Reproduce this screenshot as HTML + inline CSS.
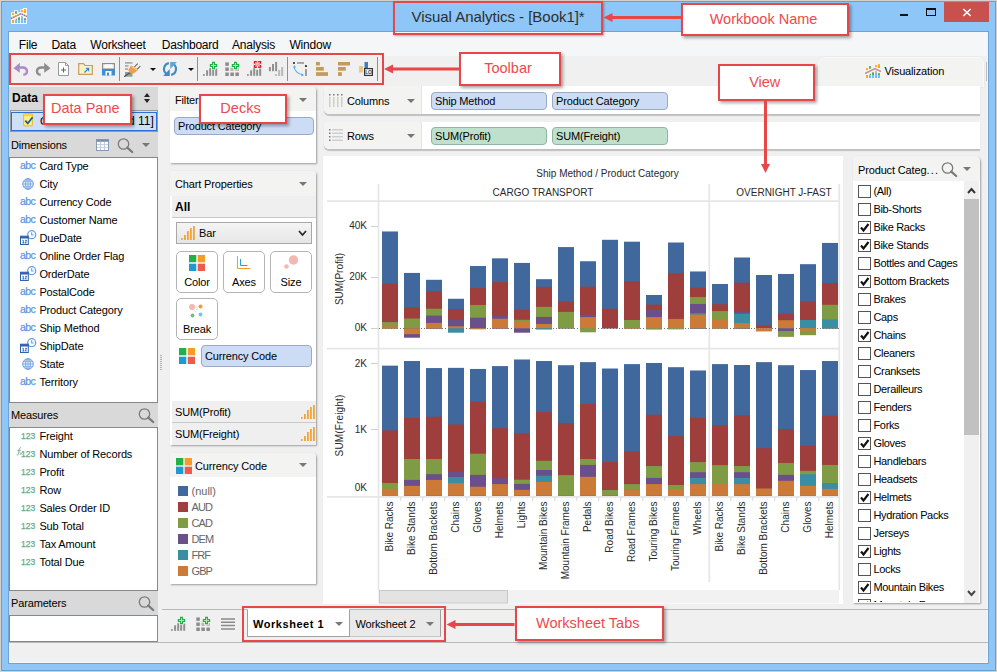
<!DOCTYPE html><html><head><meta charset="utf-8"><title>Visual Analytics</title><style>
*{box-sizing:border-box;margin:0;padding:0}
html,body{width:997px;height:672px;overflow:hidden}
body{position:relative;background:#d5d2cd;font-family:"Liberation Sans",sans-serif;font-size:11px;color:#000;letter-spacing:-0.15px}
.abs{position:absolute}
.t{position:absolute;white-space:nowrap;line-height:14px}
.hdr{position:absolute;background:#d9d9d9}
.wbox{position:absolute;background:#fff;border:1px solid #828790}
.card{position:absolute;background:#fff;box-shadow:1px 1px 2px rgba(0,0,0,.35)}
.chead{position:absolute;left:0;right:0;top:0;background:#f3f3f1;border-radius:4px 4px 0 0}
.pill{position:absolute;border-radius:4px;border:1px solid #9aa9c4;background:#ccdcf5;line-height:15px;padding-left:3px;white-space:nowrap}
.pill.g{background:#bfe0cd;border-color:#92b5a2}
.btn{position:absolute;border:1px solid #b4b4b4;border-radius:5px;background:#fff;text-align:center}
.ann{position:absolute;background:#fff;border:2px solid #e8474a;box-shadow:2px 2px 3px rgba(0,0,0,.35);color:#ee4a4d;font-size:14.5px;letter-spacing:0;text-align:center;white-space:nowrap}
.cb{position:absolute;left:858px;width:13px;height:13px;border:1px solid #555;background:#fff}
.dd{position:absolute;width:0;height:0;border-left:4px solid transparent;border-right:4px solid transparent;border-top:4px solid #777}
.menu{position:absolute;top:38px;font-size:12px;letter-spacing:-0.2px;line-height:14px;white-space:nowrap}
</style></head><body>
<div class="abs" style="left:1px;top:1px;width:995px;height:670px;border:1px solid #6a9ed2;background:#8dc6f7"></div>
<svg class="abs" style="left:11px;top:8px;" width="16" height="16" viewBox="0 0 16 16"><path d="M0 4.300H3V2.200H7V4.300H9.300V1.300H12V0H16V16H0z" fill="#fcf6ee"/><rect x="1" y="5.200" width="2" height="1.900" fill="#ffa814"/><rect x="4" y="3.200" width="2" height="2.500" fill="#5bab5e"/><rect x="10" y="2.200" width="2" height="1.900" fill="#ffa814"/><rect x="13" y="1.200" width="2" height="3.800" fill="#ffa814"/><rect x="1" y="12" width="2" height="3" fill="#ffa814"/><rect x="4" y="12.200" width="2" height="2.800" fill="#6ec0f8"/><path d="M4 12.200L6 10.200V12.200z" fill="#5bab5e"/><rect x="7" y="12.200" width="2" height="2.800" fill="#6ec0f8"/><rect x="7" y="9.300" width="2" height="2.900" fill="#5bab5e"/><rect x="10" y="9.300" width="2" height="5.700" fill="#6ec0f8"/><rect x="10.300" y="8.200" width="1.200" height="1.100" fill="#5bab5e"/><rect x="13" y="12.200" width="2" height="2.800" fill="#6ec0f8"/><rect x="13" y="10.200" width="2" height="2" fill="#5bab5e"/><path d="M0 10.500L9.800 5.700L16 8.500" stroke="#f5a78d" stroke-width="1.400" fill="none"/><path d="M0 10.500L9.800 5.700L16 8.500" stroke="#8a6fc0" stroke-width="1.400" fill="none" stroke-dasharray="1.200 1.200"/></svg>
<div class="t" style="left:411.5px;top:8px;font-size:15px;line-height:18px;letter-spacing:-0.03px;color:#2e2e2e">Visual Analytics - [Book1]*</div>
<div class="abs" style="left:900px;top:14px;width:8px;height:2px;background:#111"></div>
<div class="abs" style="left:926px;top:8px;width:10px;height:8px;border:1px solid #111;border-top-width:2px"></div>
<div class="abs" style="left:944px;top:2px;width:45px;height:20px;background:#c8504f"></div>
<svg class="abs" style="left:962px;top:8px" width="10" height="9"><path d="M1.300 1L8.700 8M8.700 1L1.300 8" stroke="#fff" stroke-width="1.600"/></svg>
<div class="abs" style="left:9px;top:32px;width:979px;height:631px;background:#f0f0f0;box-shadow:0 0 0 1px #6fa3d6;border-right:1px solid #f8f5f2;border-bottom:1px solid #f8f5f2"></div>
<div class="abs" style="left:9px;top:32px;width:979px;height:24px;background:#f5f6f7"></div>
<div class="menu" style="left:18.8px">File</div>
<div class="menu" style="left:51.4px">Data</div>
<div class="menu" style="left:90.3px">Worksheet</div>
<div class="menu" style="left:161.7px">Dashboard</div>
<div class="menu" style="left:232px">Analysis</div>
<div class="menu" style="left:289.4px">Window</div>
<svg class="abs" style="left:13px;top:61px;" width="16" height="16" viewBox="0 0 16 16"><path d="M0.500 7.200L6.800 1.800V5.200H9.500C13 5.200 15.200 7.300 15.200 10.200C15.200 13 13 14.800 10.300 14.800V12.600C11.800 12.600 12.800 11.700 12.800 10.200C12.800 8.700 11.700 7.700 9.500 7.700H6.800V11.800z" fill="#a98bc6"/></svg><svg class="abs" style="left:35px;top:61px;" width="16" height="16" viewBox="0 0 16 16"><path d="M15.500 7.200L9.200 1.800V5.200H6.500C3 5.200 0.800 7.300 0.800 10.200C0.800 13 3 14.800 5.700 14.800V12.600C4.200 12.600 3.200 11.700 3.200 10.200C3.200 8.700 4.300 7.700 6.500 7.700H9.200V11.800z" fill="#8c8c8c"/></svg><svg class="abs" style="left:58px;top:62px;" width="12" height="15" viewBox="0 0 12 15"><path d="M0.500 0.500H7.500L10.500 3.500V13.500H0.500z" fill="#fff" stroke="#9a9a9a"/><path d="M7.500 0.500V3.500H10.500" fill="none" stroke="#9a9a9a"/><path d="M3 8H8M5.500 5.500V10.500" stroke="#258a30" stroke-width="1"/></svg><svg class="abs" style="left:78px;top:62px;" width="16" height="14" viewBox="0 0 16 14"><path d="M0.700 1.700H5.500L7 3.500H14.300V12.300H0.700z" fill="#fbf2c8" stroke="#c99c5c" stroke-width="1.200"/><path d="M6.500 10.500L10.500 6.500M7.800 6.300H10.700V9.200" stroke="#2f86c8" stroke-width="1.100" fill="none"/></svg><svg class="abs" style="left:102px;top:63px;" width="13" height="13" viewBox="0 0 13 13"><path d="M0.600 0.600H12.400V6H0.600z" fill="#f4f4f4" stroke="#8e8e8e" stroke-width="1.200"/><rect x="3" y="1.500" width="7" height="3" fill="#fff"/><path d="M0 6H13V12.500H0z" fill="#3f8fd0"/><rect x="3.500" y="8" width="6" height="4.500" fill="#fff"/><rect x="5" y="9.500" width="2" height="3" fill="#3f8fd0"/></svg><div class="abs" style="left:119px;top:57px;width:1px;height:24px;background:#8f8f8f"></div><div class="abs" style="left:197px;top:57px;width:1px;height:24px;background:#8f8f8f"></div><div class="abs" style="left:287px;top:57px;width:1px;height:24px;background:#8f8f8f"></div><div class="abs" style="left:377px;top:57px;width:1px;height:24px;background:#8f8f8f"></div><svg class="abs" style="left:124px;top:61px;" width="17" height="16" viewBox="0 0 17 16"><rect x="1" y="1.300" width="7.500" height="1.200" fill="#8a8a8a"/><rect x="1" y="4.300" width="3.500" height="1.200" fill="#8a8a8a"/><rect x="1" y="7.400" width="3" height="1.200" fill="#8a8a8a"/><path d="M1 11H8.500V15.700H1z" fill="#9a9a9a"/><path d="M0 15.800L6.500 11.200" stroke="#555" stroke-width="1.200"/><path d="M10.500 5.800L13.800 2.600M13 8.300L16.300 5.100" stroke="#666" stroke-width="1.100"/><path d="M7 4.300L14.500 8.600L13 10L9.500 12.500L5.700 12L4.300 9z" fill="#eaa24f"/><path d="M7.400 5.600L13.300 9.200" stroke="#f7d9a8" stroke-width="0.800"/><rect x="6" y="12" width="1.200" height="1.200" fill="#19c030"/></svg><div class="dd" style="left:149.500px;top:68px;border-left-width:3px;border-right-width:3px;border-top-width:3.500px;border-top-color:#111"></div><svg class="abs" style="left:162px;top:61px;" width="17" height="16" viewBox="0 0 17 16"><g fill="none" stroke="#3d8cc6" stroke-width="2.100"><path d="M6.900 2.100A6 6 0 0 0 4.560 12.900"/><path d="M9.100 13.900A6 6 0 0 0 11.440 3.100"/></g><path d="M7.800 8.100V14.900H1.100z" fill="#3f8dc6"/><path d="M8.200 7.900V1.100H14.900z" fill="#5fa6d6"/></svg><div class="dd" style="left:187.500px;top:68px;border-left-width:3px;border-right-width:3px;border-top-width:3.500px;border-top-color:#111"></div><svg class="abs" style="left:203px;top:61px;" width="15" height="16" viewBox="0 0 15 16"><g fill="#8f8f8f"><rect x="0" y="13.100" width="1.800" height="1.700"/><rect x="3.100" y="9.300" width="2" height="5.500"/><rect x="6.200" y="7.200" width="2" height="7.600"/><rect x="9.200" y="8.900" width="1.900" height="5.900"/><rect x="12.200" y="7.600" width="2" height="7.200"/></g><path d="M10.5 0.2999999999999998V8.7M6.3 4.5H14.7" stroke="#f0f0f0" stroke-width="4.400"/><path d="M10.5 0.7999999999999998V8.2M6.8 4.5H14.2" stroke="#18b640" stroke-width="3"/><path d="M10.5 1.9999999999999998V6.999999999999999M8.0 4.5H13.0" stroke="#a8ecb4" stroke-width="1"/></svg><svg class="abs" style="left:225px;top:61px;" width="15" height="16" viewBox="0 0 15 16"><g fill="#8c8c8c"><rect x="0.30" y="1.40" width="3.500" height="3.500"/><rect x="0.30" y="6.45" width="3.500" height="3.500"/><rect x="5.35" y="6.45" width="3.500" height="3.500" opacity="0.550"/><rect x="10.40" y="6.45" width="3.500" height="3.500" opacity="0.550"/><rect x="0.30" y="11.50" width="3.500" height="3.500"/><rect x="5.35" y="11.50" width="3.500" height="3.500"/><rect x="10.40" y="11.50" width="3.500" height="3.500"/></g><path d="M10.5 0.2999999999999998V8.7M6.3 4.5H14.7" stroke="#f0f0f0" stroke-width="4.400"/><path d="M10.5 0.7999999999999998V8.2M6.8 4.5H14.2" stroke="#18b640" stroke-width="3"/><path d="M10.5 1.9999999999999998V6.999999999999999M8.0 4.5H13.0" stroke="#a8ecb4" stroke-width="1"/></svg><svg class="abs" style="left:247px;top:61px;" width="15" height="16" viewBox="0 0 15 16"><g fill="#8f8f8f"><rect x="0" y="13.100" width="1.800" height="1.700"/><rect x="3.100" y="9.300" width="2" height="5.500"/><rect x="6.200" y="7.200" width="2" height="7.600"/><rect x="9.200" y="8.900" width="1.900" height="5.900"/><rect x="12.200" y="7.600" width="2" height="7.200"/></g><rect x="6.800" y="0" width="7.400" height="6.900" fill="#e0101c"/><path d="M8.300 1.400L12.700 5.500M12.700 1.400L8.300 5.500" stroke="#ffb0b0" stroke-width="1.700"/><path d="M10.500 0V1.800M10.500 5.100V6.900M6.800 3.450H8.600M12.400 3.450H14.200" stroke="#f0f0f0" stroke-width="1.300"/></svg><svg class="abs" style="left:268px;top:61px;" width="16" height="16" viewBox="0 0 16 16"><g fill="#909090"><rect x="0.900" y="6" width="2" height="4.200"/><rect x="4" y="3" width="2" height="7.200"/><rect x="7.100" y="0.900" width="2" height="9.300"/></g><g fill="#b8b8b8"><rect x="7.100" y="13.100" width="2" height="1.900"/><rect x="10.200" y="8.900" width="2" height="6.100"/><rect x="13.200" y="6" width="2" height="9"/></g></svg><svg class="abs" style="left:292px;top:61px;" width="16" height="16" viewBox="0 0 16 16"><rect x="1" y="1.100" width="1.900" height="1.800" fill="#333"/><rect x="5" y="1.100" width="7" height="1.700" fill="#9a9a9a"/><rect x="13" y="4.100" width="1.900" height="1.900" fill="#333"/><rect x="13" y="8.100" width="1.900" height="6.900" fill="#9a9a9a"/><path d="M2.200 4.800C1.800 9.500 6 13.500 11.300 14" stroke="#5ab0e8" stroke-width="1.100" fill="none"/><path d="M1 6.800L2.200 4.200L4.200 6.300zM9.300 12.200L12 14.200L9.200 15.200z" fill="#5ab0e8"/></svg><svg class="abs" style="left:316px;top:62px;" width="12" height="14" viewBox="0 0 12 14"><g fill="#c49a5a"><rect x="0" y="0" width="3.900" height="3.500"/><rect x="0" y="5" width="7.800" height="3.700"/><rect x="0" y="10.200" width="12" height="3.700"/></g></svg><svg class="abs" style="left:338px;top:62px;" width="12" height="14" viewBox="0 0 12 14"><g fill="#c49a5a"><rect x="0" y="0" width="12" height="3.500"/><rect x="0" y="5" width="7.800" height="3.700"/><rect x="0" y="10.200" width="3.900" height="3.700"/></g></svg><svg class="abs" style="left:359px;top:62px;" width="14" height="14" viewBox="0 0 14 14"><rect x="0" y="4" width="4" height="6.500" fill="#ecc685"/><rect x="5.500" y="0" width="3.500" height="7" fill="#3f7dc0"/><rect x="5.600" y="6.600" width="7.800" height="6.800" fill="#fff" stroke="#333" stroke-width="1.200"/><text x="9.500" y="12" font-size="5" font-weight="bold" text-anchor="middle" font-family="Liberation Sans" fill="#223a66">LO</text></svg>
<div class="abs" style="left:818px;top:57px;width:166px;height:30px;background:#f3f3f1;border:1px solid #f9f9f8;border-bottom:none;border-radius:6px 6px 0 0;box-shadow:0 0 0 0.5px #e4e4e4"></div>
<div class="abs" style="left:986px;top:62px;width:1px;height:19px;background:#bdbdbd"></div>
<svg class="abs" style="left:865px;top:63px;" width="16" height="16" viewBox="0 0 16 16"><rect x="1" y="5.200" width="2" height="1.900" fill="#ffa814"/><rect x="4" y="3.200" width="2" height="2.500" fill="#5bab5e"/><rect x="10" y="2.200" width="2" height="1.900" fill="#ffa814"/><rect x="13" y="1.200" width="2" height="3.800" fill="#ffa814"/><rect x="1" y="12" width="2" height="3" fill="#ffa814"/><rect x="4" y="12.200" width="2" height="2.800" fill="#6ec0f8"/><path d="M4 12.200L6 10.200V12.200z" fill="#5bab5e"/><rect x="7" y="12.200" width="2" height="2.800" fill="#6ec0f8"/><rect x="7" y="9.300" width="2" height="2.900" fill="#5bab5e"/><rect x="10" y="9.300" width="2" height="5.700" fill="#6ec0f8"/><rect x="10.300" y="8.200" width="1.200" height="1.100" fill="#5bab5e"/><rect x="13" y="12.200" width="2" height="2.800" fill="#6ec0f8"/><rect x="13" y="10.200" width="2" height="2" fill="#5bab5e"/><path d="M0 10.500L9.800 5.700L16 8.500" stroke="#f5a78d" stroke-width="1.400" fill="none"/><path d="M0 10.500L9.800 5.700L16 8.500" stroke="#c48ab0" stroke-width="1.300" fill="none"/></svg>
<div class="t" style="left:884.5px;top:64px;">Visualization</div>
<div class="hdr" style="left:9px;top:87px;width:149px;height:555px"></div>
<div class="t" style="left:12px;top:90.5px;font-size:12px;letter-spacing:0"><b>Data</b></div>
<svg class="abs" style="left:143px;top:92px" width="8" height="12"><path d="M1 5L4 1L7 5zM1 7L4 11L7 7z" fill="#222"/></svg>
<div class="abs" style="left:10px;top:110px;width:148px;height:22px;border:1px solid #9a9a9a;background:#cde0f8;padding:1px 0 0 0"><div style="width:100%;height:19px;border:1px solid #2e6fd6"></div></div>
<svg class="abs" style="left:23px;top:113px;" width="12" height="14" viewBox="0 0 12 14"><rect x="0.600" y="0.600" width="8.800" height="12.300" rx="1.500" fill="#fdf08a" stroke="#e8c22e" stroke-width="1.200"/><rect x="1.200" y="1.200" width="7.600" height="2" fill="#f6d536"/><path d="M2.300 7.600L4.800 10.300L9.600 4.300" stroke="#2457a6" stroke-width="1.800" fill="none"/></svg>
<div class="t" style="left:40px;top:113.5px;">Ge</div>
<div class="t" style="left:128px;top:113.5px;font-size:12px;letter-spacing:0">d 11]</div>
<div class="t" style="left:11px;top:138px;">Dimensions</div>
<svg class="abs" style="left:96px;top:139px;" width="13" height="12" viewBox="0 0 13 12"><rect x="0.500" y="0.500" width="12" height="11" fill="#fff" stroke="#8a9bb5"/><rect x="0.500" y="0.500" width="12" height="2.300" fill="#7d8fb0"/><path d="M1 5.600H12M1 8.400H12M4.500 3V11M8.500 3V11" stroke="#c3ccda" stroke-width="1"/></svg>
<svg class="abs" style="left:117px;top:137px;" width="17" height="17" viewBox="0 0 17 17"><circle cx="6.500" cy="7" r="5.200" fill="none" stroke="#7a7a7a" stroke-width="1.300"/><path d="M10.300 10.600L15.200 15" stroke="#7a7a7a" stroke-width="2.300" stroke-linecap="round"/></svg>
<div class="dd" style="left:142px;top:143px"></div>
<div class="wbox" style="left:9px;top:157px;width:149px;height:246px;border-left-color:#828790"></div>
<div class="t" style="left:20px;top:158px;color:#5c97e6;font-size:10.5px;letter-spacing:-0.55px;-webkit-text-stroke:0.25px #5c97e6">abc</div>
<div class="t" style="left:39.4px;top:159px;">Card Type</div>
<svg class="abs" style="left:22px;top:178px;" width="12" height="12" viewBox="0 0 12 12"><circle cx="6" cy="6" r="5.300" fill="#eaf2fd" stroke="#6f9fe0" stroke-width="1"/><ellipse cx="6" cy="6" rx="2.400" ry="5.300" fill="none" stroke="#6f9fe0" stroke-width="0.900"/><path d="M6 0.700V11.300M0.700 6H11.300M1.500 3.300H10.500M1.500 8.700H10.500" stroke="#6f9fe0" stroke-width="0.800"/></svg>
<div class="t" style="left:39.4px;top:177px;">City</div>
<div class="t" style="left:20px;top:194px;color:#5c97e6;font-size:10.5px;letter-spacing:-0.55px;-webkit-text-stroke:0.25px #5c97e6">abc</div>
<div class="t" style="left:39.4px;top:195px;">Currency Code</div>
<div class="t" style="left:20px;top:212px;color:#5c97e6;font-size:10.5px;letter-spacing:-0.55px;-webkit-text-stroke:0.25px #5c97e6">abc</div>
<div class="t" style="left:39.4px;top:213px;">Customer Name</div>
<svg class="abs" style="left:20px;top:230px;" width="17" height="15" viewBox="0 0 17 15"><circle cx="11.700" cy="4.700" r="4" fill="#fff" stroke="#62a0ea" stroke-width="1.300"/><path d="M11.700 2.300V5H13.600" stroke="#62a0ea" stroke-width="1.100" fill="none"/><rect x="0.500" y="6.200" width="7.800" height="8.300" fill="#fff" stroke="#2f62a8"/><rect x="0.500" y="6.200" width="7.800" height="2.300" fill="#2f62a8"/><path d="M2.400 10.200H3.300V13M2.300 13H4.300M5 10.300H6.700L5 12.900H6.800" stroke="#2f62a8" stroke-width="0.900" fill="none"/></svg>
<div class="t" style="left:39.4px;top:231px;">DueDate</div>
<div class="t" style="left:20px;top:248px;color:#5c97e6;font-size:10.5px;letter-spacing:-0.55px;-webkit-text-stroke:0.25px #5c97e6">abc</div>
<div class="t" style="left:39.4px;top:249px;">Online Order Flag</div>
<svg class="abs" style="left:20px;top:266px;" width="17" height="15" viewBox="0 0 17 15"><circle cx="11.700" cy="4.700" r="4" fill="#fff" stroke="#62a0ea" stroke-width="1.300"/><path d="M11.700 2.300V5H13.600" stroke="#62a0ea" stroke-width="1.100" fill="none"/><rect x="0.500" y="6.200" width="7.800" height="8.300" fill="#fff" stroke="#2f62a8"/><rect x="0.500" y="6.200" width="7.800" height="2.300" fill="#2f62a8"/><path d="M2.400 10.200H3.300V13M2.300 13H4.300M5 10.300H6.700L5 12.900H6.800" stroke="#2f62a8" stroke-width="0.900" fill="none"/></svg>
<div class="t" style="left:39.4px;top:267px;">OrderDate</div>
<div class="t" style="left:20px;top:284px;color:#5c97e6;font-size:10.5px;letter-spacing:-0.55px;-webkit-text-stroke:0.25px #5c97e6">abc</div>
<div class="t" style="left:39.4px;top:285px;">PostalCode</div>
<div class="t" style="left:20px;top:302px;color:#5c97e6;font-size:10.5px;letter-spacing:-0.55px;-webkit-text-stroke:0.25px #5c97e6">abc</div>
<div class="t" style="left:39.4px;top:303px;">Product Category</div>
<div class="t" style="left:20px;top:320px;color:#5c97e6;font-size:10.5px;letter-spacing:-0.55px;-webkit-text-stroke:0.25px #5c97e6">abc</div>
<div class="t" style="left:39.4px;top:321px;">Ship Method</div>
<svg class="abs" style="left:20px;top:338px;" width="17" height="15" viewBox="0 0 17 15"><circle cx="11.700" cy="4.700" r="4" fill="#fff" stroke="#62a0ea" stroke-width="1.300"/><path d="M11.700 2.300V5H13.600" stroke="#62a0ea" stroke-width="1.100" fill="none"/><rect x="0.500" y="6.200" width="7.800" height="8.300" fill="#fff" stroke="#2f62a8"/><rect x="0.500" y="6.200" width="7.800" height="2.300" fill="#2f62a8"/><path d="M2.400 10.200H3.300V13M2.300 13H4.300M5 10.300H6.700L5 12.900H6.800" stroke="#2f62a8" stroke-width="0.900" fill="none"/></svg>
<div class="t" style="left:39.4px;top:339px;">ShipDate</div>
<svg class="abs" style="left:22px;top:358px;" width="12" height="12" viewBox="0 0 12 12"><circle cx="6" cy="6" r="5.300" fill="#eaf2fd" stroke="#6f9fe0" stroke-width="1"/><ellipse cx="6" cy="6" rx="2.400" ry="5.300" fill="none" stroke="#6f9fe0" stroke-width="0.900"/><path d="M6 0.700V11.300M0.700 6H11.300M1.500 3.300H10.500M1.500 8.700H10.500" stroke="#6f9fe0" stroke-width="0.800"/></svg>
<div class="t" style="left:39.4px;top:357px;">State</div>
<div class="t" style="left:20px;top:374px;color:#5c97e6;font-size:10.5px;letter-spacing:-0.55px;-webkit-text-stroke:0.25px #5c97e6">abc</div>
<div class="t" style="left:39.4px;top:375px;">Territory</div>
<div class="t" style="left:11px;top:408px;">Measures</div>
<svg class="abs" style="left:138px;top:407px;" width="17" height="17" viewBox="0 0 17 17"><circle cx="6.500" cy="7" r="5.200" fill="none" stroke="#7a7a7a" stroke-width="1.300"/><path d="M10.300 10.600L15.200 15" stroke="#7a7a7a" stroke-width="2.300" stroke-linecap="round"/></svg>
<div class="wbox" style="left:9px;top:427px;width:149px;height:164px"></div>
<div class="t" style="left:21px;top:428.7px;color:#6aa88a;font-size:8.500px;letter-spacing:0;-webkit-text-stroke:0.250px #6aa88a">123</div>
<div class="t" style="left:39.4px;top:429px;">Freight</div>
<svg class="abs" style="left:15.5px;top:447px;" width="7" height="9" viewBox="0 0 7 9"><path d="M5.300 1C4.200 0.400 3.400 1 3.200 2.300L2.500 6.600C2.300 7.800 1.600 8.300 0.600 7.800M1.500 3.600H4.800" stroke="#6aa88a" stroke-width="0.900" fill="none"/><path d="M3.800 5.200L6.500 8M6.500 5.200L3.800 8" stroke="#6aa88a" stroke-width="0.700"/></svg><div class="t" style="left:21px;top:446.7px;color:#6aa88a;font-size:8.500px;letter-spacing:0;-webkit-text-stroke:0.250px #6aa88a">123</div>
<div class="t" style="left:39.4px;top:447px;">Number of Records</div>
<div class="t" style="left:21px;top:464.7px;color:#6aa88a;font-size:8.500px;letter-spacing:0;-webkit-text-stroke:0.250px #6aa88a">123</div>
<div class="t" style="left:39.4px;top:465px;">Profit</div>
<div class="t" style="left:21px;top:482.7px;color:#6aa88a;font-size:8.500px;letter-spacing:0;-webkit-text-stroke:0.250px #6aa88a">123</div>
<div class="t" style="left:39.4px;top:483px;">Row</div>
<div class="t" style="left:21px;top:500.7px;color:#6aa88a;font-size:8.500px;letter-spacing:0;-webkit-text-stroke:0.250px #6aa88a">123</div>
<div class="t" style="left:39.4px;top:501px;">Sales Order ID</div>
<div class="t" style="left:21px;top:518.7px;color:#6aa88a;font-size:8.500px;letter-spacing:0;-webkit-text-stroke:0.250px #6aa88a">123</div>
<div class="t" style="left:39.4px;top:519px;">Sub Total</div>
<div class="t" style="left:21px;top:536.7px;color:#6aa88a;font-size:8.500px;letter-spacing:0;-webkit-text-stroke:0.250px #6aa88a">123</div>
<div class="t" style="left:39.4px;top:537px;">Tax Amount</div>
<div class="t" style="left:21px;top:554.7px;color:#6aa88a;font-size:8.500px;letter-spacing:0;-webkit-text-stroke:0.250px #6aa88a">123</div>
<div class="t" style="left:39.4px;top:555px;">Total Due</div>
<div class="t" style="left:11px;top:596px;">Parameters</div>
<svg class="abs" style="left:138px;top:595px;" width="17" height="17" viewBox="0 0 17 17"><circle cx="6.500" cy="7" r="5.200" fill="none" stroke="#7a7a7a" stroke-width="1.300"/><path d="M10.300 10.600L15.200 15" stroke="#7a7a7a" stroke-width="2.300" stroke-linecap="round"/></svg>
<div class="wbox" style="left:9px;top:615px;width:149px;height:27px"></div>
<div class="abs" style="left:160px;top:355px;width:2px;height:15px;background:repeating-linear-gradient(#b0b0b0 0 1px,transparent 1px 2px)"></div>
<div class="card" style="left:170px;top:87px;width:146px;height:76px;border-radius:4px 4px 0 0"><div class="chead" style="height:24px"></div></div>
<div class="t" style="left:175px;top:93px;">Filters</div>
<div class="dd" style="left:299px;top:98px"></div>
<div class="pill" style="left:174px;top:117px;width:140px;height:18px;line-height:16px">Product Category</div>
<div class="card" style="left:170px;top:171px;width:146px;height:274px;border-radius:4px 4px 0 0"><div class="chead" style="height:25px"></div><div class="abs" style="left:2px;right:0;top:25px;height:22px;background:#efefef;border-bottom:1px solid #c9c9c9"></div><div class="abs" style="left:2px;right:0;top:230px;height:22px;background:#efefef;border-bottom:1px solid #c9c9c9"></div><div class="abs" style="left:2px;right:0;top:252px;height:22px;background:#efefef"></div></div>
<div class="t" style="left:175px;top:177px;">Chart Properties</div>
<div class="dd" style="left:299px;top:182px"></div>
<div class="t" style="left:175px;top:200px;font-size:12px;letter-spacing:0"><b>All</b></div>
<div class="abs" style="left:176px;top:222px;width:136px;height:22px;border:1px solid #a8a8a8;background:linear-gradient(#f4f4f4,#e6e6e6)"></div>
<svg class="abs" style="left:181px;top:226px;" width="14" height="14" viewBox="0 0 14 14"><g fill="#f2a535"><rect x="0" y="12" width="1.600" height="2"/><rect x="3" y="9" width="1.800" height="5"/><rect x="6" y="5" width="1.800" height="9"/><rect x="9" y="2" width="1.800" height="12"/><rect x="12" y="0" width="1.800" height="14"/></g></svg>
<div class="t" style="left:199px;top:226px;">Bar</div>
<svg class="abs" style="left:298px;top:230px" width="9" height="7"><path d="M1 1L4.5 5L8 1" stroke="#222" stroke-width="1.6" fill="none"/></svg>
<div class="btn" style="left:176px;top:251px;width:42px;height:42px"></div>
<div class="t" style="left:197px;top:275px;transform:translateX(-50%)">Color</div>
<div class="btn" style="left:223px;top:251px;width:42px;height:42px"></div>
<div class="t" style="left:244px;top:275px;transform:translateX(-50%)">Axes</div>
<div class="btn" style="left:270px;top:251px;width:42px;height:42px"></div>
<div class="t" style="left:291px;top:275px;transform:translateX(-50%)">Size</div>
<div class="btn" style="left:176px;top:298px;width:42px;height:42px"></div>
<div class="t" style="left:197px;top:322px;transform:translateX(-50%)">Break</div>
<svg class="abs" style="left:189px;top:255px;" width="16" height="16" viewBox="0 0 16 16"><rect x="0" y="0" width="7.300" height="7.300" fill="#21b04a"/><rect x="8.700" y="0" width="7.300" height="7.300" fill="#f79a2e"/><rect x="0" y="8.700" width="7.300" height="7.300" fill="#1b9bd0"/><rect x="8.700" y="8.700" width="7.300" height="7.300" fill="#ef5a4c"/></svg>
<svg class="abs" style="left:237px;top:256px;" width="14" height="13" viewBox="0 0 14 13"><path d="M0.500 0V12.500H13.500" stroke="#f2992e" stroke-width="1" fill="none"/><path d="M3.500 3V9.500H10.500" stroke="#2a9fd8" stroke-width="1" fill="none"/></svg>
<svg class="abs" style="left:283px;top:255px;" width="16" height="15" viewBox="0 0 16 15"><circle cx="10.500" cy="5" r="4.700" fill="#f5b7b1"/><circle cx="3.500" cy="11.500" r="2.300" fill="#f5b7b1"/></svg>
<svg class="abs" style="left:188px;top:303px;" width="16" height="15" viewBox="0 0 16 15"><circle cx="4" cy="4" r="3" fill="#f5b7b1"/><circle cx="12.500" cy="3.500" r="2" fill="#f79a2e"/><circle cx="4.500" cy="12.500" r="1.900" fill="#6fbf73"/><circle cx="12.500" cy="11.500" r="1.900" fill="#72c3f0"/><path d="M7.500 4H10M6 7L9 10M9 6V8" stroke="#aaa" stroke-width="0.700" stroke-dasharray="1 1"/></svg>
<svg class="abs" style="left:179px;top:348px;" width="16" height="16" viewBox="0 0 16 16"><rect x="0" y="0" width="7.300" height="7.300" fill="#21b04a"/><rect x="8.700" y="0" width="7.300" height="7.300" fill="#f79a2e"/><rect x="0" y="8.700" width="7.300" height="7.300" fill="#1b9bd0"/><rect x="8.700" y="8.700" width="7.300" height="7.300" fill="#ef5a4c"/></svg>
<div class="pill" style="left:201px;top:345px;width:111px;height:22px;line-height:20px">Currency Code</div>
<div class="t" style="left:175px;top:405px;">SUM(Profit)</div>
<div class="t" style="left:175px;top:427px;">SUM(Freight)</div>
<svg class="abs" style="left:301px;top:405px;" width="14" height="14" viewBox="0 0 14 14"><g fill="#f2a535"><rect x="0" y="12" width="1.600" height="2"/><rect x="3" y="9" width="1.800" height="5"/><rect x="6" y="5" width="1.800" height="9"/><rect x="9" y="2" width="1.800" height="12"/><rect x="12" y="0" width="1.800" height="14"/></g></svg>
<svg class="abs" style="left:301px;top:427px;" width="14" height="14" viewBox="0 0 14 14"><g fill="#f2a535"><rect x="0" y="12" width="1.600" height="2"/><rect x="3" y="9" width="1.800" height="5"/><rect x="6" y="5" width="1.800" height="9"/><rect x="9" y="2" width="1.800" height="12"/><rect x="12" y="0" width="1.800" height="14"/></g></svg>
<div class="card" style="left:170px;top:453px;width:146px;height:131px;border-radius:4px 4px 0 0"><div class="chead" style="height:24px"></div></div>
<svg class="abs" style="left:176px;top:458px;" width="16" height="16" viewBox="0 0 16 16"><rect x="0" y="0" width="7.300" height="7.300" fill="#21b04a"/><rect x="8.700" y="0" width="7.300" height="7.300" fill="#f79a2e"/><rect x="0" y="8.700" width="7.300" height="7.300" fill="#1b9bd0"/><rect x="8.700" y="8.700" width="7.300" height="7.300" fill="#ef5a4c"/></svg>
<div class="t" style="left:195px;top:459px;">Currency Code</div>
<div class="dd" style="left:299px;top:463px"></div>
<div class="abs" style="left:178px;top:486px;width:10px;height:10px;background:#40689c"></div>
<div class="t" style="left:191.5px;top:484px;color:#666;letter-spacing:0">(null)</div>
<div class="abs" style="left:178px;top:502px;width:10px;height:10px;background:#9e3f3e"></div>
<div class="t" style="left:191.5px;top:500px;color:#666;letter-spacing:-0.9px">AUD</div>
<div class="abs" style="left:178px;top:518px;width:10px;height:10px;background:#7f9c45"></div>
<div class="t" style="left:191.5px;top:516px;color:#666;letter-spacing:-0.9px">CAD</div>
<div class="abs" style="left:178px;top:534px;width:10px;height:10px;background:#6b4f8a"></div>
<div class="t" style="left:191.5px;top:532px;color:#666;letter-spacing:-0.9px">DEM</div>
<div class="abs" style="left:178px;top:550px;width:10px;height:10px;background:#3a8ea3"></div>
<div class="t" style="left:191.5px;top:548px;color:#666;letter-spacing:-0.9px">FRF</div>
<div class="abs" style="left:178px;top:566px;width:10px;height:10px;background:#cc7a38"></div>
<div class="t" style="left:191.5px;top:564px;color:#666;letter-spacing:-0.9px">GBP</div>
<div class="card" style="left:324px;top:86px;width:656px;height:28px;border-radius:5px 0 0 5px;box-shadow:0 1.5px 1px rgba(0,0,0,.2)"><div class="abs" style="left:0;top:0;width:98px;height:28px;background:#f3f3f1;border-right:1px solid #e6e4d8;border-radius:5px 0 0 5px"></div></div>
<div class="t" style="left:347px;top:94px;">Columns</div>
<div class="dd" style="left:407px;top:99px"></div>
<svg class="abs" style="left:329px;top:94px;" width="15" height="14" viewBox="0 0 15 14"><rect x="0" y="0" width="1.500" height="1.500" fill="#777"/><rect x="0" y="3" width="1.500" height="10" fill="#cfcfcf"/><rect x="4" y="0" width="1.500" height="1.500" fill="#777"/><rect x="4" y="3" width="1.500" height="10" fill="#cfcfcf"/><rect x="8" y="0" width="1.500" height="1.500" fill="#777"/><rect x="8" y="3" width="1.500" height="10" fill="#cfcfcf"/><rect x="12" y="0" width="1.500" height="1.500" fill="#777"/><rect x="12" y="3" width="1.500" height="10" fill="#cfcfcf"/></svg>
<div class="card" style="left:324px;top:122px;width:656px;height:27px;border-radius:5px 0 0 5px;box-shadow:0 1.5px 1px rgba(0,0,0,.2)"><div class="abs" style="left:0;top:0;width:98px;height:27px;background:#f3f3f1;border-right:1px solid #e6e4d8;border-radius:5px 0 0 5px"></div></div>
<div class="t" style="left:347px;top:129px;">Rows</div>
<div class="dd" style="left:407px;top:134px"></div>
<svg class="abs" style="left:329px;top:129px;" width="15" height="14" viewBox="0 0 15 14"><rect x="0" y="0.0" width="1.500" height="1.500" fill="#777"/><rect x="3" y="0.0" width="11" height="1.500" fill="#cfcfcf"/><rect x="0" y="3.5" width="1.500" height="1.500" fill="#777"/><rect x="3" y="3.5" width="11" height="1.500" fill="#cfcfcf"/><rect x="0" y="7.0" width="1.500" height="1.500" fill="#777"/><rect x="3" y="7.0" width="11" height="1.500" fill="#cfcfcf"/><rect x="0" y="10.5" width="1.500" height="1.500" fill="#777"/><rect x="3" y="10.5" width="11" height="1.500" fill="#cfcfcf"/></svg>
<div class="pill" style="left:431px;top:92px;width:116px;height:18px;line-height:16px">Ship Method</div>
<div class="pill" style="left:552px;top:92px;width:116px;height:18px;line-height:16px">Product Category</div>
<div class="pill g" style="left:431px;top:127px;width:116px;height:18px;line-height:16px">SUM(Profit)</div>
<div class="pill g" style="left:552px;top:127px;width:116px;height:18px;line-height:16px">SUM(Freight)</div>
<div class="abs" style="left:323px;top:156px;width:520px;height:448px;background:#fff"></div>
<svg class="abs" style="left:0;top:0;letter-spacing:0" width="997" height="672" viewBox="0 0 997 672" font-family="Liberation Sans, sans-serif" font-size="10" fill="#2a2a2a">
<rect x="378" y="590" width="461" height="13.5" fill="#f2f2f2"/>
<rect x="379.5" y="590.5" width="128" height="12.5" fill="#e3e3e3" stroke="#c8c8c8" stroke-width="1"/>
<path d="M378.500 184V590M709.300 184V582M839.300 184V590" stroke="#e6e6e6" stroke-width="1.700" fill="none"/>
<path d="M327 201.200H839M327 348.600H839M327 496.800H839" stroke="#e6e6e6" stroke-width="1.800" fill="none"/>
<path d="M371 226.5H378M371 277.5H378M371 328.5H378M371 363.5H378M371 429.5H378" stroke="#d0d0d0" stroke-width="1" fill="none"/>
<path d="M400.8 497V501M422.8 497V501M444.8 497V501M466.8 497V501M488.8 497V501M510.8 497V501M532.8 497V501M554.8 497V501M576.8 497V501M598.8 497V501M620.8 497V501M642.8 497V501M664.8 497V501M686.8 497V501M708.8 497V501M730.8 497V501M752.8 497V501M774.8 497V501M796.8 497V501M818.8 497V501" stroke="#d8d8d8" stroke-width="1" fill="none"/>
<path d="M379 328.5H839" stroke="#777" stroke-width="1" stroke-dasharray="1 2" fill="none"/>
<rect x="382" y="231.46" width="16" height="96.88" fill="#40689c"/>
<rect x="382" y="283.54" width="16" height="44.79" fill="#9e3f3e"/>
<rect x="382" y="322.08" width="16" height="6.25" fill="#7f9c45"/>
<rect x="382" y="326.25" width="16" height="2.08" fill="#cc7a38"/>
<rect x="404" y="272.92" width="16" height="55.42" fill="#40689c"/>
<rect x="404" y="307.29" width="16" height="21.04" fill="#9e3f3e"/>
<rect x="404" y="318.54" width="16" height="9.79" fill="#7f9c45"/>
<rect x="404" y="328.33" width="16" height="9.38" fill="#6b4f8a"/>
<rect x="404" y="328.33" width="16" height="5.83" fill="#cc7a38"/>
<rect x="426" y="279.79" width="16" height="48.54" fill="#40689c"/>
<rect x="426" y="291.46" width="16" height="36.88" fill="#9e3f3e"/>
<rect x="426" y="308.75" width="16" height="19.58" fill="#7f9c45"/>
<rect x="426" y="315.62" width="16" height="12.71" fill="#6b4f8a"/>
<rect x="426" y="322.92" width="16" height="5.42" fill="#cc7a38"/>
<rect x="448" y="298.75" width="16" height="29.58" fill="#40689c"/>
<rect x="448" y="309.17" width="16" height="19.17" fill="#9e3f3e"/>
<rect x="448" y="319.79" width="16" height="8.54" fill="#6b4f8a"/>
<rect x="448" y="326.25" width="16" height="2.08" fill="#cc7a38"/>
<rect x="448" y="328.33" width="16" height="4.38" fill="#3a8ea3"/>
<rect x="470" y="266.04" width="16" height="62.29" fill="#40689c"/>
<rect x="470" y="288.12" width="16" height="40.21" fill="#9e3f3e"/>
<rect x="470" y="305.00" width="16" height="23.33" fill="#7f9c45"/>
<rect x="470" y="317.71" width="16" height="10.62" fill="#6b4f8a"/>
<rect x="470" y="328.33" width="16" height="1.04" fill="#cc7a38"/>
<rect x="492" y="258.33" width="16" height="70.00" fill="#40689c"/>
<rect x="492" y="282.08" width="16" height="46.25" fill="#9e3f3e"/>
<rect x="492" y="315.83" width="16" height="12.50" fill="#6b4f8a"/>
<rect x="492" y="318.75" width="16" height="9.58" fill="#cc7a38"/>
<rect x="514" y="262.92" width="16" height="65.42" fill="#40689c"/>
<rect x="514" y="309.79" width="16" height="18.54" fill="#9e3f3e"/>
<rect x="514" y="319.79" width="16" height="8.54" fill="#7f9c45"/>
<rect x="514" y="321.88" width="16" height="6.46" fill="#cc7a38"/>
<rect x="514" y="328.33" width="16" height="4.38" fill="#6b4f8a"/>
<rect x="536" y="279.17" width="16" height="49.17" fill="#40689c"/>
<rect x="536" y="286.88" width="16" height="41.46" fill="#9e3f3e"/>
<rect x="536" y="306.88" width="16" height="21.46" fill="#7f9c45"/>
<rect x="536" y="316.88" width="16" height="11.46" fill="#6b4f8a"/>
<rect x="536" y="323.96" width="16" height="4.38" fill="#cc7a38"/>
<rect x="536" y="328.33" width="16" height="1.25" fill="#3a8ea3"/>
<rect x="558" y="247.08" width="16" height="81.25" fill="#40689c"/>
<rect x="558" y="301.25" width="16" height="27.08" fill="#9e3f3e"/>
<rect x="558" y="311.88" width="16" height="16.46" fill="#7f9c45"/>
<rect x="580" y="261.25" width="16" height="67.08" fill="#40689c"/>
<rect x="580" y="286.67" width="16" height="41.67" fill="#9e3f3e"/>
<rect x="580" y="314.79" width="16" height="13.54" fill="#6b4f8a"/>
<rect x="580" y="317.08" width="16" height="11.25" fill="#cc7a38"/>
<rect x="580" y="328.33" width="16" height="3.96" fill="#7f9c45"/>
<rect x="602" y="239.79" width="16" height="88.54" fill="#40689c"/>
<rect x="602" y="308.75" width="16" height="19.58" fill="#9e3f3e"/>
<rect x="624" y="241.67" width="16" height="86.67" fill="#40689c"/>
<rect x="624" y="281.46" width="16" height="46.88" fill="#9e3f3e"/>
<rect x="624" y="320.00" width="16" height="8.33" fill="#7f9c45"/>
<rect x="624" y="327.29" width="16" height="1.04" fill="#cc7a38"/>
<rect x="646" y="295.00" width="16" height="33.33" fill="#40689c"/>
<rect x="646" y="304.58" width="16" height="23.75" fill="#9e3f3e"/>
<rect x="646" y="310.00" width="16" height="18.33" fill="#6b4f8a"/>
<rect x="646" y="317.08" width="16" height="11.25" fill="#cc7a38"/>
<rect x="646" y="328.33" width="16" height="1.25" fill="#7f9c45"/>
<rect x="668" y="242.50" width="16" height="85.83" fill="#40689c"/>
<rect x="668" y="273.33" width="16" height="55.00" fill="#9e3f3e"/>
<rect x="668" y="318.96" width="16" height="9.38" fill="#cc7a38"/>
<rect x="668" y="328.33" width="16" height="1.04" fill="#7f9c45"/>
<rect x="690" y="271.46" width="16" height="56.88" fill="#40689c"/>
<rect x="690" y="287.71" width="16" height="40.62" fill="#9e3f3e"/>
<rect x="690" y="297.08" width="16" height="31.25" fill="#7f9c45"/>
<rect x="690" y="303.96" width="16" height="24.38" fill="#6b4f8a"/>
<rect x="690" y="313.12" width="16" height="15.21" fill="#3a8ea3"/>
<rect x="690" y="314.58" width="16" height="13.75" fill="#cc7a38"/>
<rect x="712" y="283.96" width="16" height="44.38" fill="#40689c"/>
<rect x="712" y="304.17" width="16" height="24.17" fill="#9e3f3e"/>
<rect x="712" y="311.04" width="16" height="17.29" fill="#7f9c45"/>
<rect x="712" y="319.58" width="16" height="8.75" fill="#cc7a38"/>
<rect x="734" y="257.50" width="16" height="70.83" fill="#40689c"/>
<rect x="734" y="282.71" width="16" height="45.62" fill="#9e3f3e"/>
<rect x="734" y="311.46" width="16" height="16.88" fill="#6b4f8a"/>
<rect x="734" y="313.75" width="16" height="14.58" fill="#3a8ea3"/>
<rect x="734" y="323.12" width="16" height="5.21" fill="#cc7a38"/>
<rect x="756" y="275.00" width="16" height="53.33" fill="#40689c"/>
<rect x="756" y="325.42" width="16" height="2.92" fill="#9e3f3e"/>
<rect x="756" y="328.33" width="16" height="3.12" fill="#cc7a38"/>
<rect x="778" y="273.96" width="16" height="54.38" fill="#40689c"/>
<rect x="778" y="313.75" width="16" height="14.58" fill="#9e3f3e"/>
<rect x="778" y="320.21" width="16" height="8.12" fill="#cc7a38"/>
<rect x="778" y="328.33" width="16" height="8.54" fill="#7f9c45"/>
<rect x="778" y="328.33" width="16" height="2.71" fill="#6b4f8a"/>
<rect x="800" y="264.17" width="16" height="64.17" fill="#40689c"/>
<rect x="800" y="301.25" width="16" height="27.08" fill="#9e3f3e"/>
<rect x="800" y="320.00" width="16" height="8.33" fill="#3a8ea3"/>
<rect x="800" y="328.33" width="16" height="6.88" fill="#7f9c45"/>
<rect x="800" y="328.33" width="16" height="2.50" fill="#cc7a38"/>
<rect x="822" y="242.92" width="16" height="85.42" fill="#40689c"/>
<rect x="822" y="282.92" width="16" height="45.42" fill="#9e3f3e"/>
<rect x="822" y="304.79" width="16" height="23.54" fill="#7f9c45"/>
<rect x="822" y="319.38" width="16" height="8.96" fill="#3a8ea3"/>
<rect x="382" y="365.65" width="16" height="130.12" fill="#40689c"/>
<rect x="382" y="430.38" width="16" height="65.39" fill="#9e3f3e"/>
<rect x="382" y="483.00" width="16" height="12.77" fill="#7f9c45"/>
<rect x="382" y="488.94" width="16" height="6.83" fill="#cc7a38"/>
<rect x="404" y="361.03" width="16" height="134.74" fill="#40689c"/>
<rect x="404" y="417.83" width="16" height="77.94" fill="#9e3f3e"/>
<rect x="404" y="459.00" width="16" height="36.77" fill="#7f9c45"/>
<rect x="404" y="479.92" width="16" height="15.85" fill="#6b4f8a"/>
<rect x="404" y="485.86" width="16" height="9.91" fill="#cc7a38"/>
<rect x="426" y="368.07" width="16" height="127.70" fill="#40689c"/>
<rect x="426" y="416.73" width="16" height="79.04" fill="#9e3f3e"/>
<rect x="426" y="459.00" width="16" height="36.77" fill="#7f9c45"/>
<rect x="426" y="474.19" width="16" height="21.58" fill="#6b4f8a"/>
<rect x="426" y="479.92" width="16" height="15.85" fill="#cc7a38"/>
<rect x="448" y="367.85" width="16" height="127.92" fill="#40689c"/>
<rect x="448" y="424.44" width="16" height="71.33" fill="#9e3f3e"/>
<rect x="448" y="471.55" width="16" height="24.22" fill="#6b4f8a"/>
<rect x="448" y="477.06" width="16" height="18.71" fill="#3a8ea3"/>
<rect x="448" y="483.22" width="16" height="12.55" fill="#cc7a38"/>
<rect x="470" y="368.95" width="16" height="126.82" fill="#40689c"/>
<rect x="470" y="401.54" width="16" height="94.23" fill="#9e3f3e"/>
<rect x="470" y="453.72" width="16" height="42.05" fill="#7f9c45"/>
<rect x="470" y="474.85" width="16" height="20.92" fill="#6b4f8a"/>
<rect x="470" y="486.74" width="16" height="9.03" fill="#cc7a38"/>
<rect x="492" y="366.09" width="16" height="129.68" fill="#40689c"/>
<rect x="492" y="428.18" width="16" height="67.59" fill="#9e3f3e"/>
<rect x="492" y="478.16" width="16" height="17.61" fill="#6b4f8a"/>
<rect x="492" y="484.10" width="16" height="11.67" fill="#cc7a38"/>
<rect x="514" y="359.49" width="16" height="136.28" fill="#40689c"/>
<rect x="514" y="433.46" width="16" height="62.31" fill="#9e3f3e"/>
<rect x="514" y="479.70" width="16" height="16.07" fill="#7f9c45"/>
<rect x="514" y="483.88" width="16" height="11.89" fill="#6b4f8a"/>
<rect x="514" y="489.82" width="16" height="5.94" fill="#cc7a38"/>
<rect x="536" y="361.03" width="16" height="134.74" fill="#40689c"/>
<rect x="536" y="412.11" width="16" height="83.66" fill="#9e3f3e"/>
<rect x="536" y="460.76" width="16" height="35.01" fill="#7f9c45"/>
<rect x="536" y="470.01" width="16" height="25.76" fill="#6b4f8a"/>
<rect x="536" y="475.73" width="16" height="20.04" fill="#3a8ea3"/>
<rect x="536" y="481.90" width="16" height="13.87" fill="#cc7a38"/>
<rect x="558" y="365.21" width="16" height="130.56" fill="#40689c"/>
<rect x="558" y="423.11" width="16" height="72.66" fill="#9e3f3e"/>
<rect x="558" y="475.07" width="16" height="20.70" fill="#7f9c45"/>
<rect x="580" y="362.13" width="16" height="133.64" fill="#40689c"/>
<rect x="580" y="403.96" width="16" height="91.81" fill="#9e3f3e"/>
<rect x="580" y="459.00" width="16" height="36.77" fill="#7f9c45"/>
<rect x="580" y="464.95" width="16" height="30.82" fill="#6b4f8a"/>
<rect x="580" y="476.83" width="16" height="18.93" fill="#cc7a38"/>
<rect x="602" y="368.51" width="16" height="127.26" fill="#40689c"/>
<rect x="602" y="462.08" width="16" height="33.69" fill="#9e3f3e"/>
<rect x="602" y="490.04" width="16" height="5.72" fill="#7f9c45"/>
<rect x="624" y="364.11" width="16" height="131.66" fill="#40689c"/>
<rect x="624" y="451.74" width="16" height="44.03" fill="#9e3f3e"/>
<rect x="624" y="484.10" width="16" height="11.67" fill="#7f9c45"/>
<rect x="624" y="490.04" width="16" height="5.72" fill="#cc7a38"/>
<rect x="646" y="363.01" width="16" height="132.76" fill="#40689c"/>
<rect x="646" y="414.75" width="16" height="81.02" fill="#9e3f3e"/>
<rect x="646" y="466.05" width="16" height="29.72" fill="#7f9c45"/>
<rect x="646" y="477.94" width="16" height="17.83" fill="#6b4f8a"/>
<rect x="646" y="484.10" width="16" height="11.67" fill="#cc7a38"/>
<rect x="668" y="367.19" width="16" height="128.58" fill="#40689c"/>
<rect x="668" y="436.10" width="16" height="59.67" fill="#9e3f3e"/>
<rect x="668" y="484.98" width="16" height="10.79" fill="#7f9c45"/>
<rect x="668" y="488.94" width="16" height="6.83" fill="#cc7a38"/>
<rect x="690" y="370.49" width="16" height="125.28" fill="#40689c"/>
<rect x="690" y="417.83" width="16" height="77.94" fill="#9e3f3e"/>
<rect x="690" y="462.08" width="16" height="33.69" fill="#7f9c45"/>
<rect x="690" y="472.21" width="16" height="23.56" fill="#6b4f8a"/>
<rect x="690" y="477.94" width="16" height="17.83" fill="#3a8ea3"/>
<rect x="690" y="484.10" width="16" height="11.67" fill="#cc7a38"/>
<rect x="712" y="364.11" width="16" height="131.66" fill="#40689c"/>
<rect x="712" y="425.10" width="16" height="70.67" fill="#9e3f3e"/>
<rect x="712" y="465.17" width="16" height="30.60" fill="#7f9c45"/>
<rect x="712" y="484.10" width="16" height="11.67" fill="#cc7a38"/>
<rect x="734" y="364.99" width="16" height="130.78" fill="#40689c"/>
<rect x="734" y="415.41" width="16" height="80.36" fill="#9e3f3e"/>
<rect x="734" y="466.05" width="16" height="29.72" fill="#7f9c45"/>
<rect x="734" y="472.21" width="16" height="23.56" fill="#6b4f8a"/>
<rect x="734" y="477.94" width="16" height="17.83" fill="#3a8ea3"/>
<rect x="734" y="484.10" width="16" height="11.67" fill="#cc7a38"/>
<rect x="756" y="362.13" width="16" height="133.64" fill="#40689c"/>
<rect x="756" y="448.21" width="16" height="47.56" fill="#9e3f3e"/>
<rect x="756" y="488.50" width="16" height="7.27" fill="#cc7a38"/>
<rect x="778" y="365.21" width="16" height="130.56" fill="#40689c"/>
<rect x="778" y="429.06" width="16" height="66.71" fill="#9e3f3e"/>
<rect x="778" y="462.96" width="16" height="32.80" fill="#7f9c45"/>
<rect x="778" y="474.85" width="16" height="20.92" fill="#6b4f8a"/>
<rect x="778" y="480.80" width="16" height="14.97" fill="#cc7a38"/>
<rect x="800" y="370.05" width="16" height="125.72" fill="#40689c"/>
<rect x="800" y="445.57" width="16" height="50.20" fill="#9e3f3e"/>
<rect x="800" y="470.89" width="16" height="24.88" fill="#7f9c45"/>
<rect x="800" y="474.19" width="16" height="21.58" fill="#3a8ea3"/>
<rect x="800" y="485.86" width="16" height="9.91" fill="#cc7a38"/>
<rect x="822" y="361.03" width="16" height="134.74" fill="#40689c"/>
<rect x="822" y="415.85" width="16" height="79.92" fill="#9e3f3e"/>
<rect x="822" y="464.95" width="16" height="30.82" fill="#7f9c45"/>
<rect x="822" y="483.00" width="16" height="12.77" fill="#3a8ea3"/>
<rect x="822" y="488.94" width="16" height="6.83" fill="#cc7a38"/>
<text x="607.5" y="176.5" text-anchor="middle">Ship Method / Product Category</text>
<text x="543" y="196.400" text-anchor="middle">CARGO TRANSPORT</text>
<text x="784" y="196.400" text-anchor="middle">OVERNIGHT J-FAST</text>
<text x="367" y="228.7" text-anchor="end">40K</text>
<text x="367" y="279.7" text-anchor="end">20K</text>
<text x="367" y="331" text-anchor="end">0K</text>
<text x="367" y="367" text-anchor="end">2K</text>
<text x="367" y="433" text-anchor="end">1K</text>
<text x="367" y="491.3" text-anchor="end">0K</text>
<text transform="translate(343,279) rotate(-90)" text-anchor="middle">SUM(Profit)</text>
<text transform="translate(343,425.5) rotate(-90)" text-anchor="middle" letter-spacing="0.15">SUM(Freight)</text>
<text transform="translate(392.7,501.5) rotate(-90)" text-anchor="end">Bike Racks</text>
<text transform="translate(414.7,501.5) rotate(-90)" text-anchor="end">Bike Stands</text>
<text transform="translate(436.7,501.5) rotate(-90)" text-anchor="end">Bottom Brackets</text>
<text transform="translate(458.7,501.5) rotate(-90)" text-anchor="end">Chains</text>
<text transform="translate(480.7,501.5) rotate(-90)" text-anchor="end">Gloves</text>
<text transform="translate(502.7,501.5) rotate(-90)" text-anchor="end">Helmets</text>
<text transform="translate(524.7,501.5) rotate(-90)" text-anchor="end">Lights</text>
<text transform="translate(546.7,501.5) rotate(-90)" text-anchor="end">Mountain Bikes</text>
<text transform="translate(568.7,501.5) rotate(-90)" text-anchor="end">Mountain Frames</text>
<text transform="translate(590.7,501.5) rotate(-90)" text-anchor="end">Pedals</text>
<text transform="translate(612.7,501.5) rotate(-90)" text-anchor="end">Road Bikes</text>
<text transform="translate(634.7,501.5) rotate(-90)" text-anchor="end">Road Frames</text>
<text transform="translate(656.7,501.5) rotate(-90)" text-anchor="end">Touring Bikes</text>
<text transform="translate(678.7,501.5) rotate(-90)" text-anchor="end">Touring Frames</text>
<text transform="translate(700.7,501.5) rotate(-90)" text-anchor="end">Wheels</text>
<text transform="translate(722.7,501.5) rotate(-90)" text-anchor="end">Bike Racks</text>
<text transform="translate(744.7,501.5) rotate(-90)" text-anchor="end">Bike Stands</text>
<text transform="translate(766.7,501.5) rotate(-90)" text-anchor="end">Bottom Brackets</text>
<text transform="translate(788.7,501.5) rotate(-90)" text-anchor="end">Chains</text>
<text transform="translate(810.7,501.5) rotate(-90)" text-anchor="end">Gloves</text>
<text transform="translate(832.7,501.5) rotate(-90)" text-anchor="end">Helmets</text>
</svg>
<div class="card" style="left:853px;top:156px;width:127px;height:447px;border-radius:5px 5px 0 0;overflow:hidden"><div class="chead" style="height:25px"></div><div class="abs" style="left:111px;top:25px;width:15px;height:422px;background:#f0f0f0"></div><div class="abs" style="left:111px;top:43px;width:15px;height:236px;background:#c1c1c1"></div></div>
<div class="t" style="left:858px;top:163px;">Product Categ<span style="letter-spacing:1.2px">...</span></div>
<svg class="abs" style="left:941px;top:161px;" width="17" height="17" viewBox="0 0 17 17"><circle cx="6.500" cy="7" r="5.200" fill="none" stroke="#7a7a7a" stroke-width="1.300"/><path d="M10.300 10.600L15.200 15" stroke="#7a7a7a" stroke-width="2.300" stroke-linecap="round"/></svg>
<div class="dd" style="left:963px;top:167px"></div>
<svg class="abs" style="left:967px;top:187px" width="9" height="7"><path d="M1 6L4.5 2L8 6" stroke="#333" stroke-width="1.9" fill="none"/></svg>
<svg class="abs" style="left:967px;top:590px" width="9" height="7"><path d="M1 1L4.5 5L8 1" stroke="#444" stroke-width="1.9" fill="none"/></svg>
<div class="abs" style="left:0;top:0;width:964px;height:602px;overflow:hidden"><div class="cb" style="top:185.0px"></div><div class="t" style="left:873.5px;top:183.7px;letter-spacing:-0.35px">(All)</div><div class="cb" style="top:203.0px"></div><div class="t" style="left:873.5px;top:201.7px;letter-spacing:-0.35px">Bib-Shorts</div><div class="cb" style="top:221.0px"><svg width="11" height="11" style="display:block"><path d="M2 5.5L4.5 8.5L9.5 2" stroke="#111" stroke-width="2.1" fill="none"/></svg></div><div class="t" style="left:873.5px;top:219.7px;letter-spacing:-0.35px">Bike Racks</div><div class="cb" style="top:239.0px"><svg width="11" height="11" style="display:block"><path d="M2 5.5L4.5 8.5L9.5 2" stroke="#111" stroke-width="2.1" fill="none"/></svg></div><div class="t" style="left:873.5px;top:237.7px;letter-spacing:-0.35px">Bike Stands</div><div class="cb" style="top:257.0px"></div><div class="t" style="left:873.5px;top:255.7px;letter-spacing:-0.35px">Bottles and Cages</div><div class="cb" style="top:275.0px"><svg width="11" height="11" style="display:block"><path d="M2 5.5L4.5 8.5L9.5 2" stroke="#111" stroke-width="2.1" fill="none"/></svg></div><div class="t" style="left:873.5px;top:273.7px;letter-spacing:-0.35px">Bottom Brackets</div><div class="cb" style="top:293.0px"></div><div class="t" style="left:873.5px;top:291.7px;letter-spacing:-0.35px">Brakes</div><div class="cb" style="top:311.0px"></div><div class="t" style="left:873.5px;top:309.7px;letter-spacing:-0.35px">Caps</div><div class="cb" style="top:329.0px"><svg width="11" height="11" style="display:block"><path d="M2 5.5L4.5 8.5L9.5 2" stroke="#111" stroke-width="2.1" fill="none"/></svg></div><div class="t" style="left:873.5px;top:327.7px;letter-spacing:-0.35px">Chains</div><div class="cb" style="top:347.0px"></div><div class="t" style="left:873.5px;top:345.7px;letter-spacing:-0.35px">Cleaners</div><div class="cb" style="top:365.0px"></div><div class="t" style="left:873.5px;top:363.7px;letter-spacing:-0.35px">Cranksets</div><div class="cb" style="top:383.0px"></div><div class="t" style="left:873.5px;top:381.7px;letter-spacing:-0.35px">Derailleurs</div><div class="cb" style="top:401.0px"></div><div class="t" style="left:873.5px;top:399.7px;letter-spacing:-0.35px">Fenders</div><div class="cb" style="top:419.0px"></div><div class="t" style="left:873.5px;top:417.7px;letter-spacing:-0.35px">Forks</div><div class="cb" style="top:437.0px"><svg width="11" height="11" style="display:block"><path d="M2 5.5L4.5 8.5L9.5 2" stroke="#111" stroke-width="2.1" fill="none"/></svg></div><div class="t" style="left:873.5px;top:435.7px;letter-spacing:-0.35px">Gloves</div><div class="cb" style="top:455.0px"></div><div class="t" style="left:873.5px;top:453.7px;letter-spacing:-0.35px">Handlebars</div><div class="cb" style="top:473.0px"></div><div class="t" style="left:873.5px;top:471.7px;letter-spacing:-0.35px">Headsets</div><div class="cb" style="top:491.0px"><svg width="11" height="11" style="display:block"><path d="M2 5.5L4.5 8.5L9.5 2" stroke="#111" stroke-width="2.1" fill="none"/></svg></div><div class="t" style="left:873.5px;top:489.7px;letter-spacing:-0.35px">Helmets</div><div class="cb" style="top:509.0px"></div><div class="t" style="left:873.5px;top:507.70000000000005px;letter-spacing:-0.35px">Hydration Packs</div><div class="cb" style="top:527.0px"></div><div class="t" style="left:873.5px;top:525.7px;letter-spacing:-0.35px">Jerseys</div><div class="cb" style="top:545.0px"><svg width="11" height="11" style="display:block"><path d="M2 5.5L4.5 8.5L9.5 2" stroke="#111" stroke-width="2.1" fill="none"/></svg></div><div class="t" style="left:873.5px;top:543.7px;letter-spacing:-0.35px">Lights</div><div class="cb" style="top:563.0px"></div><div class="t" style="left:873.5px;top:561.7px;letter-spacing:-0.35px">Locks</div><div class="cb" style="top:581.0px"><svg width="11" height="11" style="display:block"><path d="M2 5.5L4.5 8.5L9.5 2" stroke="#111" stroke-width="2.1" fill="none"/></svg></div><div class="t" style="left:873.5px;top:579.7px;letter-spacing:-0.35px">Mountain Bikes</div><div class="cb" style="top:599.0px"><svg width="11" height="11" style="display:block"><path d="M2 5.5L4.5 8.5L9.5 2" stroke="#111" stroke-width="2.1" fill="none"/></svg></div><div class="t" style="left:873.5px;top:597.7px;letter-spacing:-0.35px">Mountain Frames</div></div>
<div class="abs" style="left:162px;top:609px;width:826px;height:1px;background:#b9b9b9"></div>
<div class="abs" style="left:9px;top:642px;width:979px;height:1px;background:#b9b9b9"></div>
<svg class="abs" style="left:171px;top:616px;" width="15" height="16" viewBox="0 0 15 16"><g fill="#8f8f8f"><rect x="0" y="13.100" width="1.800" height="1.700"/><rect x="3.100" y="9.300" width="2" height="5.500"/><rect x="6.200" y="7.200" width="2" height="7.600"/><rect x="9.200" y="8.900" width="1.900" height="5.900"/><rect x="12.200" y="7.600" width="2" height="7.200"/></g><path d="M10.5 0.2999999999999998V8.7M6.3 4.5H14.7" stroke="#f0f0f0" stroke-width="4.400"/><path d="M10.5 0.7999999999999998V8.2M6.8 4.5H14.2" stroke="#18b640" stroke-width="3"/><path d="M10.5 1.9999999999999998V6.999999999999999M8.0 4.5H13.0" stroke="#a8ecb4" stroke-width="1"/></svg><svg class="abs" style="left:196px;top:616px;" width="15" height="16" viewBox="0 0 15 16"><g fill="#8c8c8c"><rect x="0.30" y="1.40" width="3.500" height="3.500"/><rect x="0.30" y="6.45" width="3.500" height="3.500"/><rect x="5.35" y="6.45" width="3.500" height="3.500" opacity="0.550"/><rect x="10.40" y="6.45" width="3.500" height="3.500" opacity="0.550"/><rect x="0.30" y="11.50" width="3.500" height="3.500"/><rect x="5.35" y="11.50" width="3.500" height="3.500"/><rect x="10.40" y="11.50" width="3.500" height="3.500"/></g><path d="M10.5 0.2999999999999998V8.7M6.3 4.5H14.7" stroke="#f0f0f0" stroke-width="4.400"/><path d="M10.5 0.7999999999999998V8.2M6.8 4.5H14.2" stroke="#18b640" stroke-width="3"/><path d="M10.5 1.9999999999999998V6.999999999999999M8.0 4.5H13.0" stroke="#a8ecb4" stroke-width="1"/></svg><svg class="abs" style="left:221px;top:618px;" width="15" height="12" viewBox="0 0 15 12"><path d="M0 1H14M0 4.300H14M0 7.600H14M0 10.900H14" stroke="#8a8a8a" stroke-width="1.500"/></svg>
<div class="abs" style="left:247px;top:609px;width:103px;height:28px;background:#fff;border:1px solid #a0a0a0;border-top-color:#fff"></div>
<div class="t" style="left:253px;top:616.5px;letter-spacing:0.55px"><b>Worksheet 1</b></div>
<div class="dd" style="left:335px;top:622px"></div>
<div class="abs" style="left:350px;top:610px;width:91px;height:27px;background:#e9e9e9;border-right:1px solid #a0a0a0;border-bottom:1px solid #c8c8c8"></div>
<div class="t" style="left:355.5px;top:616.5px;">Worksheet 2</div>
<div class="dd" style="left:426px;top:622px"></div>
<div class="abs" style="left:393px;top:1px;width:210px;height:34px;border:2px solid #e8474a;box-shadow:1px 1px 2px rgba(0,0,0,.3)"></div>
<div class="abs" style="left:9px;top:53px;width:375px;height:31.5px;border:2px solid #e8474a"></div>
<div class="abs" style="left:242px;top:605.5px;width:204px;height:36.5px;border:2px solid #e8474a"></div>
<div class="ann" style="left:681px;top:3px;width:168px;height:33px;line-height:28px;padding-right:3.0px">Workbook Name</div>
<div class="ann" style="left:459px;top:52px;width:102px;height:33.5px;line-height:28.5px;padding-right:4px">Toolbar</div>
<div class="ann" style="left:717.5px;top:63.5px;width:97.5px;height:37.5px;line-height:32.5px;padding-right:3.0px">View</div>
<div class="ann" style="left:43px;top:94px;width:88.5px;height:30.5px;line-height:25.5px;padding-right:4px">Data Pane</div>
<div class="ann" style="left:199px;top:94px;width:88px;height:29.5px;line-height:24.5px;padding-right:5.0px">Decks</div>
<div class="ann" style="left:514.5px;top:606px;width:149.5px;height:35px;line-height:30px;padding-right:3.0px">Worksheet Tabs</div>
<svg class="abs" style="left:0;top:0;pointer-events:none" width="997" height="672"><g stroke="#e8474a" stroke-width="3" fill="#e8474a"><path d="M681 17.500H610"/><path d="M603.500 17.500L612.500 13V22z" stroke="none"/><path d="M459 69H391"/><path d="M384 69L393 64.500V73.500z" stroke="none"/><path d="M765.500 101V165"/><path d="M765.500 173L761 164H770z" stroke="none"/><path d="M514.500 624.500H453"/><path d="M446.500 624.500L455.500 620V629z" stroke="none"/></g></svg>
</body></html>
